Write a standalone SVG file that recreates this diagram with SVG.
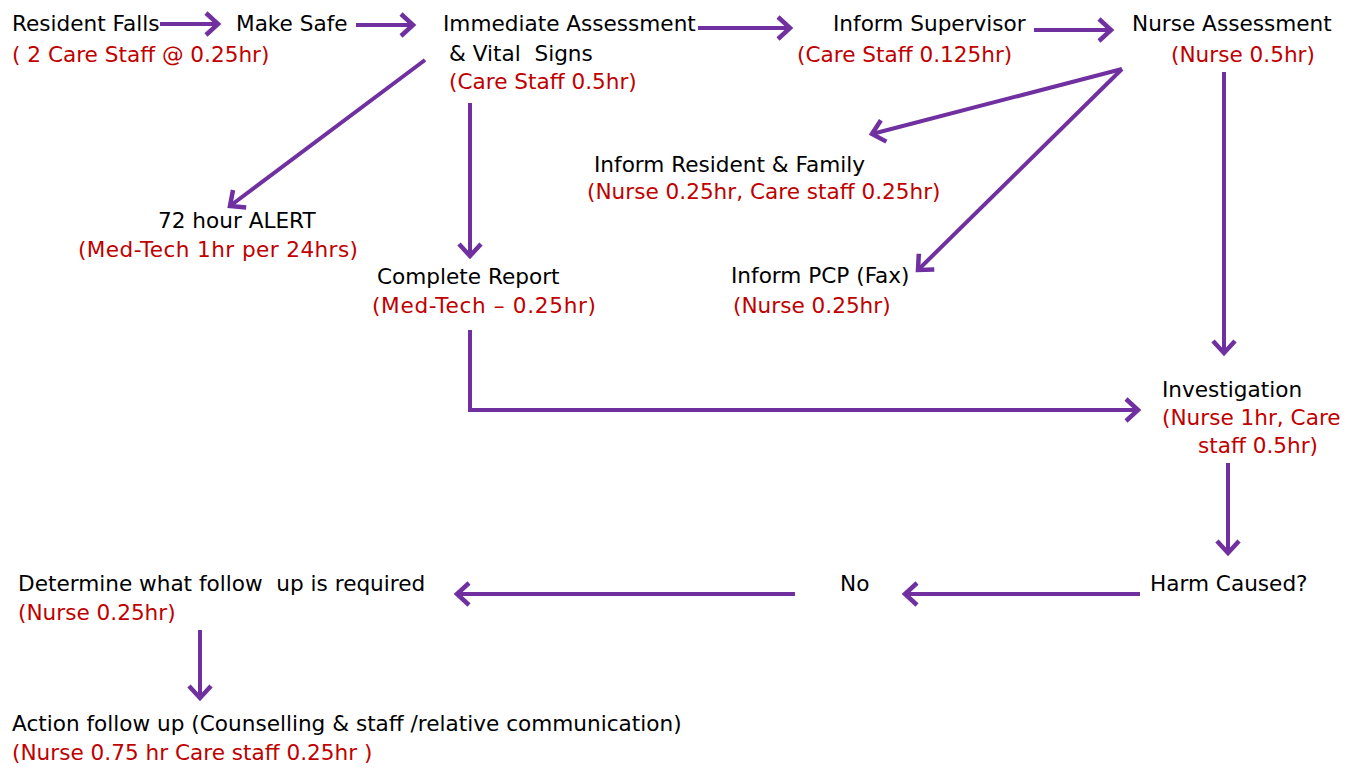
<svg xmlns="http://www.w3.org/2000/svg" width="1359" height="768" viewBox="0 0 1359 768">
<defs>
<style>
text{font-family:"DejaVu Sans","Liberation Sans",sans-serif;font-size:21.6px;white-space:pre;}
.b{fill:#000000;}
.r{fill:#C00000;}
.c{stroke:#7030A0;stroke-width:4;fill:none;marker-end:url(#ah);}
</style>
<marker id="ah" markerUnits="userSpaceOnUse" markerWidth="30" markerHeight="30" viewBox="-16 -15 20 30" refX="0" refY="0" orient="auto">
<path d="M-12,-11 L0,0 L-12,11" fill="none" stroke="#7030A0" stroke-width="4.5"/>
</marker>
</defs>
<rect width="1359" height="768" fill="#ffffff"/>
<g id="connectors">
<line class="c" x1="160" y1="24" x2="218" y2="24"/>
<line class="c" x1="356" y1="25" x2="413" y2="25"/>
<line class="c" x1="698" y1="28" x2="790" y2="28"/>
<line class="c" x1="1034" y1="30" x2="1111" y2="30"/>
<line class="c" x1="425" y1="60" x2="230" y2="206"/>
<line class="c" x1="470" y1="103" x2="470" y2="256"/>
<line class="c" x1="1122" y1="69" x2="872" y2="134"/>
<line class="c" x1="1122" y1="69" x2="918" y2="270"/>
<line class="c" x1="1224" y1="72" x2="1224" y2="353"/>
<polyline class="c" points="470,330 470,410 1138,410"/>
<line class="c" x1="1228" y1="463" x2="1228" y2="553"/>
<line class="c" x1="1140" y1="594" x2="905" y2="594"/>
<line class="c" x1="795" y1="594" x2="457" y2="594"/>
<line class="c" x1="200" y1="630" x2="200" y2="698"/>
</g>
<g id="n-resident-falls"><text class="b" x="12" y="31">Resident Falls</text><text class="r" x="12" y="62">( 2 Care Staff @ 0.25hr)</text></g>
<g id="n-make-safe"><text class="b" x="236" y="31">Make Safe</text></g>
<g id="n-immediate"><text class="b" x="443" y="31">Immediate Assessment</text><text class="b" x="449" y="61">&amp; Vital  Signs</text><text class="r" x="449" y="89">(Care Staff 0.5hr)</text></g>
<g id="n-supervisor"><text class="b" x="833" y="31">Inform Supervisor</text><text class="r" x="797" y="62">(Care Staff 0.125hr)</text></g>
<g id="n-nurse-assessment"><text class="b" x="1132" y="31">Nurse Assessment</text><text class="r" x="1171" y="62">(Nurse 0.5hr)</text></g>
<g id="n-alert"><text class="b" x="158" y="228">72 hour ALERT</text><text class="r" x="78" y="257" textLength="280" lengthAdjust="spacing">(Med-Tech 1hr per 24hrs)</text></g>
<g id="n-complete-report"><text class="b" x="377" y="284">Complete Report</text><text class="r" x="372" y="313" textLength="224" lengthAdjust="spacing">(Med-Tech – 0.25hr)</text></g>
<g id="n-inform-family"><text class="b" x="594" y="172">Inform Resident &amp; Family</text><text class="r" x="587" y="199">(Nurse 0.25hr, Care staff 0.25hr)</text></g>
<g id="n-inform-pcp"><text class="b" x="731" y="283">Inform PCP (Fax)</text><text class="r" x="733" y="313">(Nurse 0.25hr)</text></g>
<g id="n-investigation"><text class="b" x="1162" y="397">Investigation</text><text class="r" x="1162" y="425">(Nurse 1hr, Care</text><text class="r" x="1198" y="453">staff 0.5hr)</text></g>
<g id="n-harm"><text class="b" x="1150" y="591">Harm Caused?</text></g>
<g id="n-no"><text class="b" x="840" y="591">No</text></g>
<g id="n-determine"><text class="b" x="18" y="591">Determine what follow  up is required</text><text class="r" x="18" y="620">(Nurse 0.25hr)</text></g>
<g id="n-action"><text class="b" x="12" y="731">Action follow up (Counselling &amp; staff /relative communication)</text><text class="r" x="12" y="760">(Nurse 0.75 hr Care staff 0.25hr )</text></g>
</svg>
